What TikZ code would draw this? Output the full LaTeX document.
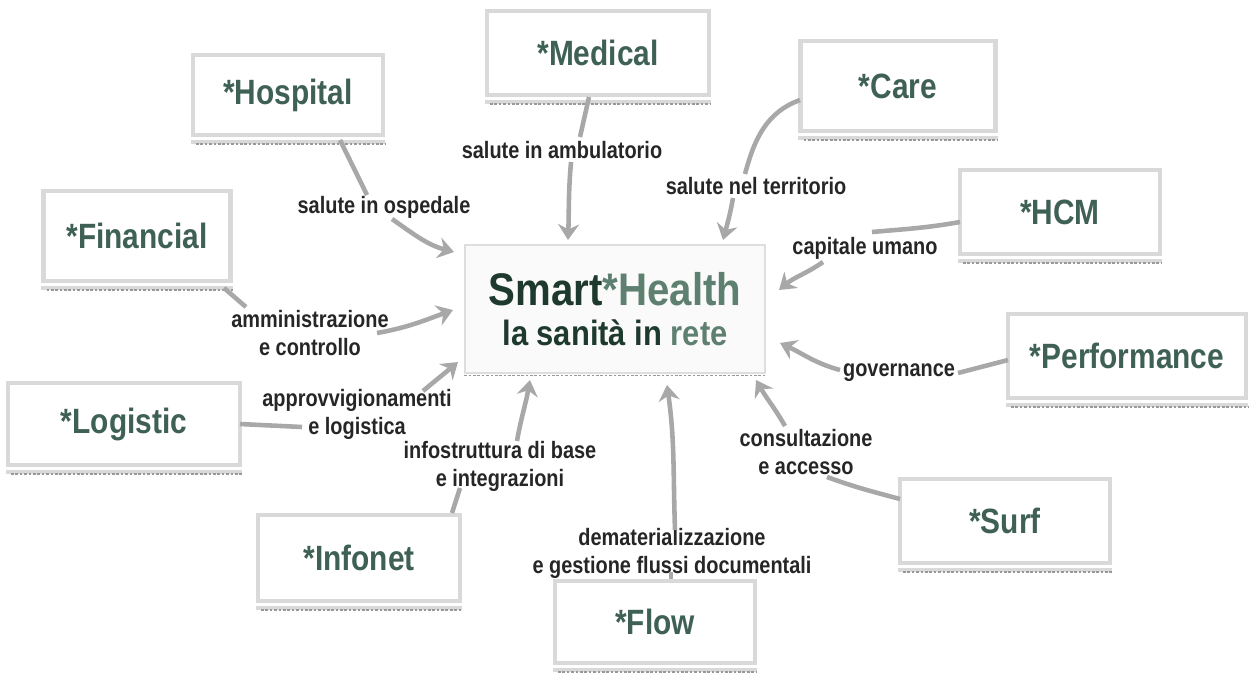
\documentclass[tikz,border=0pt]{standalone}
\usepackage{fontspec}
\usetikzlibrary{arrows.meta,calc}
\newfontfamily\cfb[FakeStretch=0.85]{Liberation Sans}
\newfontfamily\cfl[FakeStretch=0.84]{Liberation Sans}
\newfontfamily\cft[FakeStretch=0.88]{Liberation Sans}
\definecolor{boxgreen}{HTML}{3F6155}
\definecolor{darktitle}{HTML}{1E3A2E}
\definecolor{lighttitle}{HTML}{5E8070}
\definecolor{arrgray}{HTML}{A8A8A8}
\definecolor{frame}{HTML}{D9D9D9}
\tikzset{
  modbox/.style={draw=frame, line width=2.6pt, fill=white, inner sep=0pt,
    font=\cfb\bfseries\fontsize{20}{22}\selectfont, text=boxgreen},
  lab/.style={font=\cfl\bfseries\fontsize{13.5}{16}\selectfont, text=black!85, inner sep=1pt, align=center},
  ln/.style={draw=arrgray, line width=2.6pt},
  arr/.style={draw=arrgray, line width=2.6pt, -{Stealth[length=9pt,width=12pt,inset=3pt]}},
  shband/.style={draw=frame, line width=2.6pt},
  shdash/.style={draw=black!40, line width=0.7pt, dash pattern=on 1.5pt off 1pt},
}
\begin{document}
\begin{tikzpicture}[x=0.02cm,y=0.02cm]
\useasboundingbox (0,0) rectangle (1253,-676);

% module boxes
\node[modbox, minimum width=3.8cm,  minimum height=1.6cm]  (hosp) at (288,-95)   {*Hospital};
\node[modbox, minimum width=4.44cm, minimum height=1.68cm] (med)  at (598,-53)   {*Medical};
\node[modbox, minimum width=3.9cm,  minimum height=1.8cm]  (care) at (898,-86)   {*Care};
\node[modbox, minimum width=3.74cm, minimum height=1.8cm]  (fin)  at (137,-236)  {*Financial};
\node[modbox, minimum width=4.0cm,  minimum height=1.68cm] (hcm)  at (1060,-212) {*HCM};
\node[modbox, minimum width=4.76cm, minimum height=1.68cm] (perf) at (1127,-356) {*Performance};
\node[modbox, minimum width=4.64cm, minimum height=1.64cm] (logi) at (124,-424)  {*Logistic};
\node[modbox, minimum width=4.04cm, minimum height=1.72cm] (info) at (359,-558)  {*Infonet};
\node[modbox, minimum width=4.0cm,  minimum height=1.64cm] (flow) at (655,-622)  {*Flow};
\node[modbox, minimum width=4.2cm,  minimum height=1.68cm] (surf) at (1005,-521) {*Surf};

\foreach \n in {hosp,med,care,fin,hcm,perf,logi,info,flow,surf}{
  \draw[shband] ([yshift=-2.8pt]\n.south west) -- ([yshift=-2.8pt]\n.south east);
  \draw[shdash] ([yshift=-3.8pt,xshift=3pt]\n.south west) -- ([yshift=-3.8pt]\n.south east);
}

% central box
\node[draw=black!13, line width=1pt, fill=black!2, minimum width=6cm, minimum height=2.56cm,
      inner sep=0pt, align=center] (center) at (615,-309)
  {{\cft\bfseries\fontsize{26}{26}\selectfont\textcolor{darktitle}{Smart}\textcolor{lighttitle}{*Health}}\\[7pt]
   {\cft\bfseries\fontsize{20}{20}\selectfont\textcolor{darktitle}{la sanità in }\textcolor{lighttitle}{rete}}};
\draw[shdash] ([yshift=-1pt]center.south west) -- ([yshift=-1pt]center.south east);

% labels
\node[lab] (l1)  at (384,-207) {salute in ospedale};
\node[lab] (l2)  at (562,-150) {salute in ambulatorio};
\node[lab] (l3)  at (756,-186) {salute nel territorio};
\node[lab] (l4)  at (865,-248) {capitale umano};
\node[lab] (l5)  at (899,-373) {governance};
\node[lab] (l6)  at (806,-452) {consultazione\\e accesso};
\node[lab] (l7)  at (672,-553) {dematerializzazione\\e gestione flussi documentali};
\node[lab] (l8)  at (500,-466) {infostruttura di base\\e integrazioni};
\node[lab] (l9)  at (357,-414) {approvvigionamenti\\e logistica};
\node[lab] (l10) at (310,-333) {amministrazione\\e controllo};

% connectors
\draw[ln]  ($(hosp)+(52,-45)$) -- ($(l1)+(-17,12)$);
\draw[arr] ($(l1)+(8,-12)$) to[out=-35,in=165] ($(center)+(-161,57)$);

\draw[ln]  ($(med)+(-9,-44)$) -- ($(l2)+(18,13)$);
\draw[arr] ($(l2)+(9,-12)$) to[out=-95,in=88] ($(center)+(-47,69)$);

\draw[ln]  ($(care)+(-98,-14)$) to[out=200,in=75] ($(l3)+(-11,12)$);
\draw[arr] ($(l3)+(-23,-12)$) to[out=-100,in=75] ($(center)+(108,69)$);

\draw[ln]  ($(hcm)+(-100,-10)$) to[out=190,in=5] ($(l4)+(7,16)$);
\draw[arr] ($(l4)+(-42,-14)$) to[out=215,in=40] ($(center)+(164,19)$);

\draw[ln]  ($(perf)+(-119,-4)$) -- ($(l5)+(59,0)$);
\draw[arr] ($(l5)+(-59,3)$) to[out=165,in=-25] ($(center)+(165,-34)$);

\draw[ln]  ($(surf)+(-105,22)$) to[out=165,in=-20] ($(l6)+(21,-25)$);
\draw[arr] ($(l6)+(-21,26)$) to[out=120,in=-60] ($(center)+(141,-71)$);

\draw[ln]  ($(flow)+(16,43)$) -- ($(l7)+(-1,-19)$);
\draw[arr] ($(l7)+(3,23)$) to[out=92,in=-82] ($(center)+(52,-76)$);

\draw[ln]  ($(info)+(93,45)$) -- ($(l8)+(-40,-22)$);
\draw[arr] ($(l8)+(17,25)$) to[out=80,in=-100] ($(center)+(-85,-71)$);

\draw[ln]  ($(logi)+(116,0)$) -- ($(l9)+(-55,-13)$);
\draw[arr] ($(l9)+(66,23)$) to[out=40,in=220] ($(center)+(-157,-53)$);

\draw[ln]  ($(fin)+(87,-52)$) -- ($(l10)+(-64,26)$);
\draw[arr] ($(l10)+(67,0)$) to[out=10,in=200] ($(center)+(-162,-1)$);
\end{tikzpicture}
\end{document}
